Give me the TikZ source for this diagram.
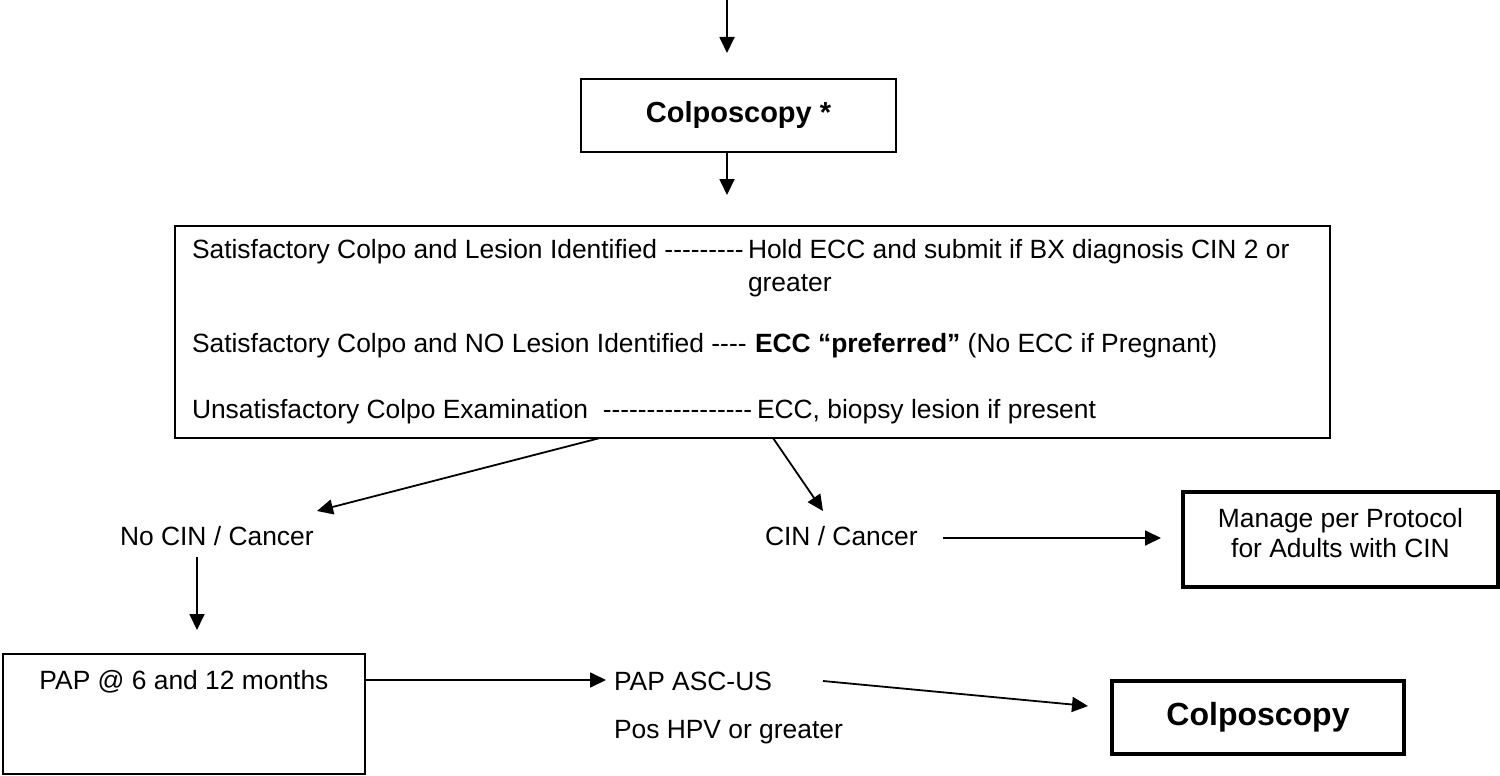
\documentclass[tikz,border=0pt]{standalone}
\usepackage{fontspec}
\setmainfont{Liberation Sans}
\usetikzlibrary{arrows.meta}

\begin{document}
\begin{tikzpicture}[x=1pt,y=-1pt,
  every node/.style={inner sep=0pt, outer sep=0pt},
  txt/.style={font=\fontsize{26.4}{30}\selectfont, anchor=base west},
  ctxt/.style={font=\fontsize{26.4}{30}\selectfont, anchor=base, align=center},
  box/.style={draw, line width=1.8pt, rectangle},
  thickbox/.style={draw, line width=3.6pt, rectangle},
  flow/.style={line width=1.8pt, -{Triangle[length=16pt,width=15pt]}}
]
\useasboundingbox (0,0) rectangle (1500,776);

% first colposcopy box
\node[box, minimum width=315, minimum height=73,
      font=\bfseries\fontsize{29}{34}\selectfont] (colpoA) at (738.5,115.5) {Colposcopy *};

% findings box
\node[box, minimum width=1155, minimum height=212] (findings) at (752.5,332) {};
\node[txt] (l1a) at (192,258) {Satisfactory Colpo and Lesion Identified {-}{-}{-}{-}{-}{-}{-}{-}{-}};
\node[txt] (l1b) at (748,258) {Hold ECC and submit if BX diagnosis CIN 2 or};
\node[txt] (l1c) at (748,291) {greater};
\node[txt] (l2a) at (192,352) {Satisfactory Colpo and NO Lesion Identified {-}{-}{-}{-}};
\node[txt] (l2b) at (755,352) {\textbf{ECC “preferred”} (No ECC if Pregnant)};
\node[txt] (l3a) at (192,418) {Unsatisfactory Colpo Examination\ \ {-}{-}{-}{-}{-}{-}{-}{-}{-}{-}{-}{-}{-}{-}{-}{-}{-}};
\node[txt] (l3b) at (757,418) {ECC, biopsy lesion if present};

% outcomes
\node[txt] (nocin) at (120,545) {No CIN / Cancer};
\node[txt] (cin) at (765,545) {CIN / Cancer};
\node[thickbox, minimum width=315, minimum height=95] (manage) at (1340.5,539.5) {};
\node[ctxt] (managetxt) at (1340.5,557) {Manage per Protocol\\for Adults with CIN};

% follow-up
\node[box, minimum width=362, minimum height=120] (pap) at (184,714) {};
\node[ctxt] (paptxt) at (184,689) {PAP @ 6 and 12 months};
\node[txt] (asc) at (614,690) {PAP ASC-US};
\node[txt] (hpv) at (614,738) {Pos HPV or greater};
\node[thickbox, minimum width=292, minimum height=73,
      font=\bfseries\fontsize{32}{38}\selectfont] (colpoB) at (1258,717.5) {Colposcopy};

% connector end points
\coordinate (top) at (727,0);
\coordinate (inA) at (727,53);
\coordinate (inF) at (727,195);
\coordinate (fromL) at (600,438);
\coordinate (toNo) at (317,511);
\coordinate (fromR) at (773,438);
\coordinate (toCin) at (823,511);
\coordinate (cinR) at (943,538);
\coordinate (toManage) at (1161,538);
\coordinate (noB) at (197,557);
\coordinate (toPap) at (197,630);
\coordinate (toAsc) at (606,680);
\coordinate (ascR) at (823,681);
\coordinate (toColpo) at (1088,706);

% connectors
\draw[flow] (top) -- (inA);
\draw[flow] (colpoA.south -| inF) -- (inF);
\draw[flow] (fromL) -- (toNo);
\draw[flow] (fromR) -- (toCin);
\draw[flow] (cinR) -- (toManage);
\draw[flow] (noB) -- (toPap);
\draw[flow] (pap.east |- toAsc) -- (toAsc);
\draw[flow] (ascR) -- (toColpo);
\end{tikzpicture}
\end{document}
